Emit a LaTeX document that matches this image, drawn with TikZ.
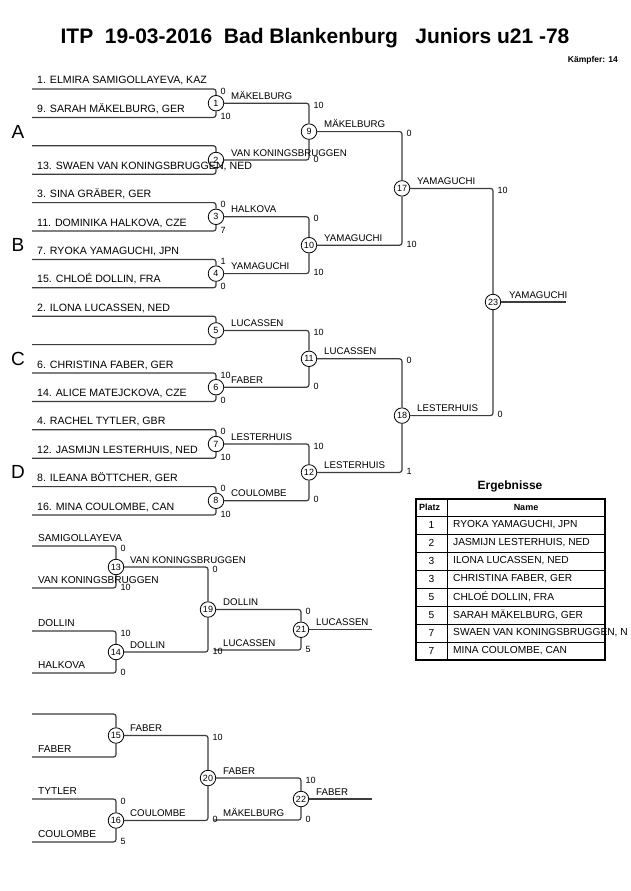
\documentclass[tikz,border=0pt]{standalone}
\usepackage{fontspec}
\setmainfont{Liberation Sans}
\newcommand\fsz[1]{\fontsize{#1}{#1}\selectfont}
\tikzset{
	bline/.style={line width=1.2pt, draw=black!76, rounded corners=2.5pt},
	kreis/.style={circle, draw=black, line width=0.8pt, fill=white, inner sep=0pt, minimum size=15.5pt, font=\fsz{9}},
	nme/.style={anchor=base west, inner sep=0pt, font=\fsz{10.6}},
	rnme/.style={anchor=base west, inner sep=0pt, font=\fsz{10.1}},
	sieger/.style={anchor=base west, inner sep=0pt, font=\fsz{9.7}},
	pkt/.style={anchor=west, inner sep=0pt, font=\fsz{9}},
	pool/.style={inner sep=0pt, font=\fsz{19}},
	zelle/.style={inner sep=0pt, font=\fsz{10.2}},
}

\begin{document}
\begin{tikzpicture}[x=1pt, y=-1pt]
		%%%%% START %%%%%
		\useasboundingbox[fill=white] (0,0) rectangle (630,891);
		
		\node[font=\fsz{21}\bfseries, inner sep=0pt] (titel) at (315,38) {ITP\ \ 19-03-2016\ \ Bad Blankenburg\ \ \ Juniors u21 -78};
		\node[font=\fsz{8.5}\bfseries, anchor=east, inner sep=0pt] (anzahl) at (618,60) {Kämpfer: 14};
		
		%%%%% POOLS %%%%%
		\node[pool] (pA) at (18,131.6) {A};
		\node[pool] (pB) at (18,245.2) {B};
		\node[pool] (pC) at (18,358.8) {C};
		\node[pool] (pD) at (18,472.4) {D};
		
		%%%%% ROUND 1 %%%%%
		\node[kreis] (m1) at (216,103.2) {1};
		\node[kreis] (m2) at (216,160) {2};
		\node[kreis] (m3) at (216,216.8) {3};
		\node[kreis] (m4) at (216,273.6) {4};
		\node[kreis] (m5) at (216,330.4) {5};
		\node[kreis] (m6) at (216,387.2) {6};
		\node[kreis] (m7) at (216,444) {7};
		\node[kreis] (m8) at (216,500.8) {8};
		
		\node[kreis] (m9) at (309,131.6) {9};
		\node[kreis] (m10) at (309,245.2) {10};
		\node[kreis] (m11) at (309,358.8) {11};
		\node[kreis] (m12) at (309,472.4) {12};
		
		\node[kreis] (m17) at (402,188.4) {17};
		\node[kreis] (m18) at (402,415.6) {18};
		
		\node[kreis] (m23) at (493,302) {23};
		\coordinate (fin) at (566,302);
		
		\foreach \i/\y in {1/89,2/117.4,3/145.8,4/174.2,5/202.6,6/231,7/259.4,8/287.8,9/316.2,10/344.6,11/373,12/401.4,13/429.8,14/458.2,15/486.6,16/515}
			\coordinate (e\i) at (32,\y);
		
		\draw[bline] (e1) -| (m1);
		\draw[bline] (e2) -| (m1);
		\draw[bline] (e3) -| (m2);
		\draw[bline] (e4) -| (m2);
		\draw[bline] (e5) -| (m3);
		\draw[bline] (e6) -| (m3);
		\draw[bline] (e7) -| (m4);
		\draw[bline] (e8) -| (m4);
		\draw[bline] (e9) -| (m5);
		\draw[bline] (e10) -| (m5);
		\draw[bline] (e11) -| (m6);
		\draw[bline] (e12) -| (m6);
		\draw[bline] (e13) -| (m7);
		\draw[bline] (e14) -| (m7);
		\draw[bline] (e15) -| (m8);
		\draw[bline] (e16) -| (m8);
		
		\draw[bline] (m1) -| (m9);
		\draw[bline] (m2) -| (m9);
		\draw[bline] (m3) -| (m10);
		\draw[bline] (m4) -| (m10);
		\draw[bline] (m5) -| (m11);
		\draw[bline] (m6) -| (m11);
		\draw[bline] (m7) -| (m12);
		\draw[bline] (m8) -| (m12);
		
		\draw[bline] (m9) -| (m17);
		\draw[bline] (m10) -| (m17);
		\draw[bline] (m11) -| (m18);
		\draw[bline] (m12) -| (m18);
		
		\draw[bline] (m17) -| (m23);
		\draw[bline] (m18) -| (m23);
		\draw[bline] (m23) -- (fin);
		
		\node[nme] (n1) at (37,84) {1. ELMIRA SAMIGOLLAYEVA, KAZ};
		\node[nme] (n2) at (37,112.4) {9. SARAH MÄKELBURG, GER};
		\node[nme] (n4) at (37,169.2) {13. SWAEN VAN KONINGSBRUGGEN, NED};
		\node[nme] (n5) at (37,197.6) {3. SINA GRÄBER, GER};
		\node[nme] (n6) at (37,226) {11. DOMINIKA HALKOVA, CZE};
		\node[nme] (n7) at (37,254.4) {7. RYOKA YAMAGUCHI, JPN};
		\node[nme] (n8) at (37,282.8) {15. CHLOÉ DOLLIN, FRA};
		\node[nme] (n9) at (37,311.2) {2. ILONA LUCASSEN, NED};
		\node[nme] (n11) at (37,368) {6. CHRISTINA FABER, GER};
		\node[nme] (n12) at (37,396.4) {14. ALICE MATEJCKOVA, CZE};
		\node[nme] (n13) at (37,424.8) {4. RACHEL TYTLER, GBR};
		\node[nme] (n14) at (37,453.2) {12. JASMIJN LESTERHUIS, NED};
		\node[nme] (n15) at (37,481.6) {8. ILEANA BÖTTCHER, GER};
		\node[nme] (n16) at (37,510) {16. MINA COULOMBE, CAN};
		
		% scores
		\node[pkt] (s1a) at (220.5,91) {0};
		\node[pkt] (s1b) at (220.5,116.4) {10};
		\node[pkt] (s3a) at (220.5,204.6) {0};
		\node[pkt] (s3b) at (220.5,230) {7};
		\node[pkt] (s4a) at (220.5,261.4) {1};
		\node[pkt] (s4b) at (220.5,286.8) {0};
		\node[pkt] (s6a) at (220.5,375) {10};
		\node[pkt] (s6b) at (220.5,400.4) {0};
		\node[pkt] (s7a) at (220.5,431.8) {0};
		\node[pkt] (s7b) at (220.5,457.2) {10};
		\node[pkt] (s8a) at (220.5,488.6) {0};
		\node[pkt] (s8b) at (220.5,514) {10};
		
		\node[pkt] (s9a) at (313.5,105.2) {10};
		\node[pkt] (s9b) at (313.5,159) {0};
		\node[pkt] (s10a) at (313.5,218.8) {0};
		\node[pkt] (s10b) at (313.5,272.6) {10};
		\node[pkt] (s11a) at (313.5,332.4) {10};
		\node[pkt] (s11b) at (313.5,386.2) {0};
		\node[pkt] (s12a) at (313.5,446) {10};
		\node[pkt] (s12b) at (313.5,499.8) {0};
		
		\node[pkt] (s17a) at (406.5,133.6) {0};
		\node[pkt] (s17b) at (406.5,244.2) {10};
		\node[pkt] (s18a) at (406.5,360.8) {0};
		\node[pkt] (s18b) at (406.5,471.4) {1};
		
		\node[pkt] (s23a) at (497.5,190.4) {10};
		\node[pkt] (s23b) at (497.5,414.6) {0};
		
		% winners
		\node[sieger] (w1) at (231,99.2) {MÄKELBURG};
		\node[sieger] (w2) at (231,156) {VAN KONINGSBRUGGEN};
		\node[sieger] (w3) at (231,212.8) {HALKOVA};
		\node[sieger] (w4) at (231,269.6) {YAMAGUCHI};
		\node[sieger] (w5) at (231,326.4) {LUCASSEN};
		\node[sieger] (w6) at (231,383.2) {FABER};
		\node[sieger] (w7) at (231,440) {LESTERHUIS};
		\node[sieger] (w8) at (231,496.8) {COULOMBE};
		\node[sieger] (w9) at (324,127.6) {MÄKELBURG};
		\node[sieger] (w10) at (324,241.2) {YAMAGUCHI};
		\node[sieger] (w11) at (324,354.8) {LUCASSEN};
		\node[sieger] (w12) at (324,468.4) {LESTERHUIS};
		\node[sieger] (w17) at (417,184.4) {YAMAGUCHI};
		\node[sieger] (w18) at (417,411.6) {LESTERHUIS};
		\node[sieger] (w23) at (509,298) {YAMAGUCHI};
		
		%%%%% REPECHAGE %%%%%
		\node[kreis] (m13) at (116,567) {13};
		\node[kreis] (m14) at (116,652) {14};
		\node[kreis] (m15) at (116,735.5) {15};
		\node[kreis] (m16) at (116,820.5) {16};
		\node[kreis] (m19) at (208,609.5) {19};
		\node[kreis] (m20) at (208,778) {20};
		\node[kreis] (m21) at (301,629.75) {21};
		\node[kreis] (m22) at (301,799) {22};
		
		\foreach \i/\y in {1/546,2/588,3/631,4/673,5/714,6/757,7/799,8/842}
			\coordinate (r\i) at (32,\y);
		\coordinate (l21) at (214,650);
		\coordinate (l22) at (214,820);
		\coordinate (o21) at (372,629.75);
		\coordinate (o22) at (372,799);
		
		\draw[bline] (r1) -| (m13);
		\draw[bline] (r2) -| (m13);
		\draw[bline] (r3) -| (m14);
		\draw[bline] (r4) -| (m14);
		\draw[bline] (r5) -| (m15);
		\draw[bline] (r6) -| (m15);
		\draw[bline] (r7) -| (m16);
		\draw[bline] (r8) -| (m16);
		\draw[bline] (m13) -| (m19);
		\draw[bline] (m14) -| (m19);
		\draw[bline] (m15) -| (m20);
		\draw[bline] (m16) -| (m20);
		\draw[bline] (m19) -| (m21);
		\draw[bline] (l21) -| (m21);
		\draw[bline] (m20) -| (m22);
		\draw[bline] (l22) -| (m22);
		\draw[bline] (m21) -- (o21);
		\draw[bline] (m22) -- (o22);
		
		\node[rnme] (q1) at (38,541) {SAMIGOLLAYEVA};
		\node[rnme] (q2) at (38,583) {VAN KONINGSBRUGGEN};
		\node[rnme] (q3) at (38,626) {DOLLIN};
		\node[rnme] (q4) at (38,668) {HALKOVA};
		\node[rnme] (q6) at (38,752) {FABER};
		\node[rnme] (q7) at (38,794) {TYTLER};
		\node[rnme] (q8) at (38,837) {COULOMBE};
		\node[sieger] (q21) at (223,646) {LUCASSEN};
		\node[sieger] (q22) at (223,816) {MÄKELBURG};
		
		\node[pkt] (s13a) at (120.5,548) {0};
		\node[pkt] (s13b) at (120.5,587) {10};
		\node[pkt] (s14a) at (120.5,633) {10};
		\node[pkt] (s14b) at (120.5,672) {0};
		\node[pkt] (s16a) at (120.5,801) {0};
		\node[pkt] (s16b) at (120.5,841) {5};
		\node[pkt] (s19a) at (212.5,569) {0};
		\node[pkt] (s19b) at (212.5,651) {10};
		\node[pkt] (s20a) at (212.5,737.5) {10};
		\node[pkt] (s20b) at (212.5,819.5) {0};
		\node[pkt] (s21a) at (305.5,611.5) {0};
		\node[pkt] (s21b) at (305.5,649) {5};
		\node[pkt] (s22a) at (305.5,780) {10};
		\node[pkt] (s22b) at (305.5,819) {0};
		
		\node[sieger] (w13) at (130,563) {VAN KONINGSBRUGGEN};
		\node[sieger] (w14) at (130,648) {DOLLIN};
		\node[sieger] (w15) at (130,731.5) {FABER};
		\node[sieger] (w16) at (130,816.5) {COULOMBE};
		\node[sieger] (w19) at (223,605.5) {DOLLIN};
		\node[sieger] (w20) at (223,774) {FABER};
		\node[sieger] (w21) at (316,625.75) {LUCASSEN};
		\node[sieger] (w22) at (316,795) {FABER};
		
		%%%%% ERGEBNISSE %%%%%
		\node[font=\fsz{12}\bfseries, inner sep=0pt] (erg) at (510,486) {Ergebnisse};
		\draw[line width=0.6pt] (447,499) -- (447,660);
		\foreach \y in {516,534,552,570,588,606,624,642}
			\draw[line width=0.6pt] (416,\y) -- (605,\y);
		\draw[line width=1.3pt] (416,499) rectangle (605,660);
		\node[zelle, font=\fsz{9}\bfseries, anchor=west] (hp) at (419,507.5) {Platz};
		\node[zelle, font=\fsz{9}\bfseries] (hn) at (526,507.5) {Name};
		\foreach \r/\p/\n in {0/1/{RYOKA YAMAGUCHI, JPN},1/2/{JASMIJN LESTERHUIS, NED},2/3/{ILONA LUCASSEN, NED},3/3/{CHRISTINA FABER, GER},4/5/{CHLOÉ DOLLIN, FRA},5/5/{SARAH MÄKELBURG, GER},6/7/{SWAEN VAN KONINGSBRUGGEN, N},7/7/{MINA COULOMBE, CAN}}{
			\node[zelle] (p\r) at (431.5,525+18*\r) {\p};
			\node[zelle, anchor=west] (t\r) at (453,525+18*\r) {\n};
		}
		%%%%% END %%%%%
\end{tikzpicture}
\end{document}
